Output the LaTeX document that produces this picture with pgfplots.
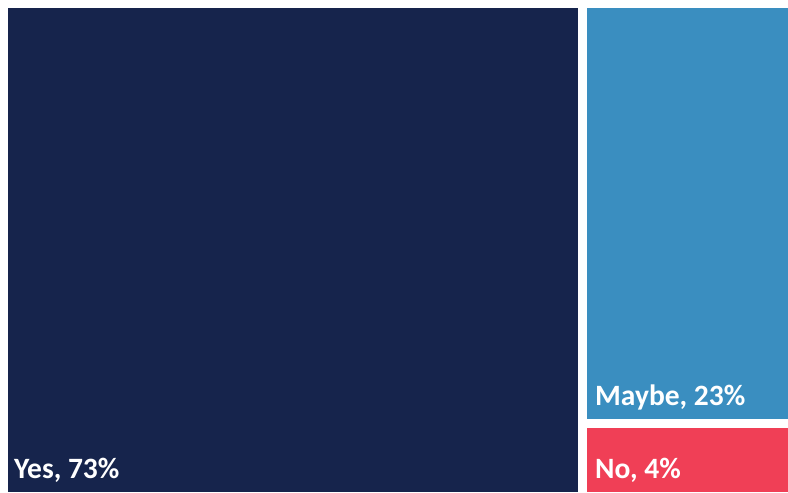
\documentclass[border=0pt]{standalone}
\usepackage{pgfplots}
\pgfplotsset{compat=1.18}
\usepackage{fontspec}
\setmainfont{Carlito}
\definecolor{navy}{HTML}{16244C}
\definecolor{mblue}{HTML}{3A8EC0}
\definecolor{mred}{HTML}{F03F56}
\begin{document}
\begin{tikzpicture}
\begin{axis}[width=788pt,height=493pt,scale only axis,hide axis,
  xmin=0,xmax=788,ymin=0,ymax=493,y dir=reverse,clip=false]
\addplot[fill=navy,draw=none] coordinates {(8,8) (578,8) (578,492) (8,492)} --cycle;
\addplot[fill=mblue,draw=none] coordinates {(587,8) (788,8) (788,419) (587,419)} --cycle;
\addplot[fill=mred,draw=none] coordinates {(587,428) (788,428) (788,492) (587,492)} --cycle;
\addplot[draw=none,fill=none] coordinates {(0,0) (788,493)};
\node[anchor=base west,inner sep=0pt,text=white,font=\fontsize{29.5}{33}\selectfont\bfseries] at (axis cs:14,478) {Yes, 73\%};
\node[anchor=base west,inner sep=0pt,text=white,font=\fontsize{29.5}{33}\selectfont\bfseries] at (axis cs:595,405) {Maybe, 23\%};
\node[anchor=base west,inner sep=0pt,text=white,font=\fontsize{29.5}{33}\selectfont\bfseries] at (axis cs:595,478) {No, 4\%};
\end{axis}
\end{tikzpicture}
\end{document}
